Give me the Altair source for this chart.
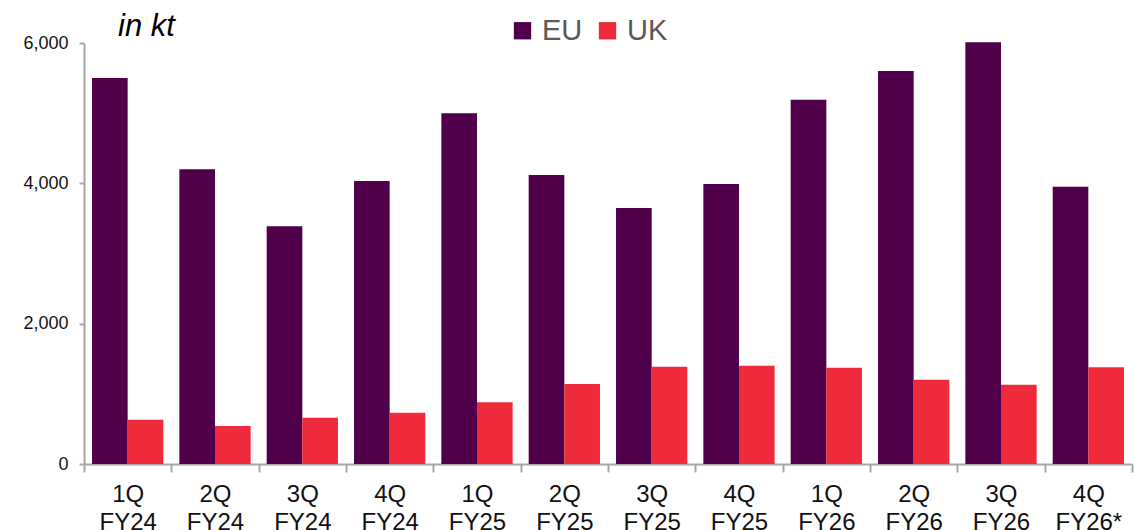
import altair as alt
import pandas as pd

quarters = ["1Q FY24", "2Q FY24", "3Q FY24", "4Q FY24",
            "1Q FY25", "2Q FY25", "3Q FY25", "4Q FY25",
            "1Q FY26", "2Q FY26", "3Q FY26", "4Q FY26*"]
eu = [5500, 4200, 3390, 4035, 5000, 4120, 3650, 3990, 5190, 5600, 6010, 3950]
uk = [630, 540, 660, 730, 880, 1140, 1385, 1400, 1370, 1200, 1130, 1380]
regions = ["EU", "UK"]
colors = ["#50004A", "#EE2A3B"]
unit_label = ["in kt"]

rows = []
for q, a, b in zip(quarters, eu, uk):
    rows.append({"quarter": q, "region": "EU", "value": a})
    rows.append({"quarter": q, "region": "UK", "value": b})
df = pd.DataFrame(rows)

bars = alt.Chart(df).mark_bar().encode(
    x=alt.X("quarter:N", sort=quarters,
            scale=alt.Scale(paddingInner=0, paddingOuter=0),
            axis=alt.Axis(title=None, labelAngle=0, tickBand="extent",
                          labelExpr="split(datum.label, ' ')",
                          labelFontSize=24, labelColor="#111111",
                          labelLineHeight=28, labelPadding=10,
                          labelFont="Liberation Sans",
                          domainColor="#A6A6A6", domainWidth=2,
                          tickColor="#A6A6A6", tickWidth=2, tickSize=8)),
    xOffset=alt.XOffset("region:N", sort=regions,
                        scale=alt.Scale(paddingInner=0, paddingOuter=0.225)),
    y=alt.Y("value:Q", scale=alt.Scale(domain=[0, 6000], nice=False),
            axis=alt.Axis(title=None, values=[0, 2000, 4000, 6000], format=",d",
                          grid=False, labelFontSize=18, labelColor="#111111",
                          labelFont="Liberation Sans", labelPadding=11,
                          domainColor="#A6A6A6", domainWidth=2,
                          tickColor="#A6A6A6", tickWidth=2, tickSize=5)),
    color=alt.Color("region:N", sort=regions,
                    scale=alt.Scale(domain=regions, range=colors),
                    legend=alt.Legend(title=None, orient="none", direction="horizontal",
                                      legendX=424, legendY=-27,
                                      symbolType="square", symbolSize=300,
                                      symbolStrokeWidth=0, symbolOpacity=1,
                                      labelFontSize=29, labelColor="#595959",
                                      labelFont="Liberation Sans",
                                      columnPadding=10, labelOffset=5)),
)

unit = alt.Chart(pd.DataFrame({"t": unit_label})).mark_text(
    align="left", baseline="alphabetic", fontSize=31, fontStyle="italic",
    font="Liberation Sans", color="#000000"
).encode(text="t:N", x=alt.value(34), y=alt.value(-7))

chart = alt.layer(bars, unit).properties(
    width=1048, height=421,
    padding={"left": 84, "top": 43, "right": 2, "bottom": 66},
    autosize=alt.AutoSizeParams(type="none"),
).configure_view(stroke=None)

chart.save("out.html", embed_options={"renderer": "svg", "actions": False})
